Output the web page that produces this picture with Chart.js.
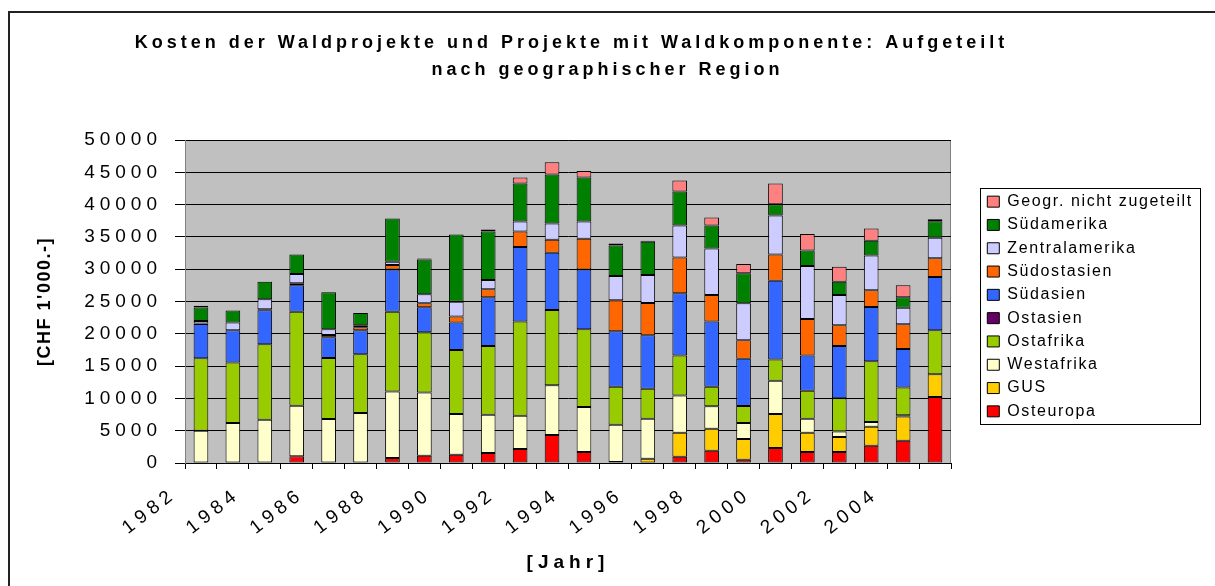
<!DOCTYPE html>
<html lang="de">
<head>
<meta charset="utf-8">
<title>Kosten der Waldprojekte</title>
<script src="https://cdn.jsdelivr.net/npm/chart.js@4.4.1/dist/chart.umd.min.js"></script>
<style>
  html, body { margin: 0; padding: 0; background: #fff; }
  #waldChart { display: block; }
</style>
</head>
<body>
<canvas id="waldChart" width="1215" height="586"></canvas>
<script>
// Kategorien (Jahre) und Achsenbeschriftungen
const years = ['1982', '1983', '1984', '1985', '1986', '1987', '1988', '1989', '1990', '1991', '1992', '1993',
  '1994', '1995', '1996', '1997', '1998', '1999', '2000', '2001', '2002', '2003', '2004', '2005'];
const xTickLabels = ['1982', '', '1984', '', '1986', '', '1988', '', '1990', '', '1992', '',
  '1994', '', '1996', '', '1998', '', '2000', '', '2002', '', '2004', ''];
const yTickLabels = ['0', '5000', '10000', '15000', '20000', '25000', '30000', '35000', '40000', '45000', '50000'];

// Werte in CHF 1'000.-, von unten nach oben gestapelt
const osteuropa = [0, 0, 0, 1030, 0, 0, 770, 1130, 1290, 1550, 2160, 4330, 1700, 150, 0, 980, 1910, 520, 2320, 1700, 1700, 2680, 3450, 10200];
const gus = [0, 0, 0, 0, 0, 0, 0, 0, 0, 0, 0, 0, 0, 0, 670, 3710, 3390, 3190, 5250, 2990, 2320, 2930, 3760, 3550];
const westafrika = [5000, 6180, 6700, 7830, 6800, 7730, 10300, 9790, 6280, 5920, 5150, 7720, 6950, 5770, 6180, 5760, 3500, 2470, 5150, 2160, 870, 720, 200, 0];
const ostafrika = [11200, 9370, 11690, 14570, 9470, 9110, 12360, 9320, 9940, 10660, 14580, 11640, 12050, 5870, 4630, 6180, 2990, 2630, 3300, 4330, 5150, 9430, 4280, 6800];
const ostasien = [0, 0, 0, 0, 0, 0, 0, 0, 0, 0, 0, 0, 0, 0, 0, 0, 0, 0, 0, 0, 0, 0, 0, 0];
const suedasien = [5300, 5000, 5250, 4070, 3200, 3710, 6540, 3860, 4220, 7520, 11530, 8860, 9270, 8600, 8300, 9640, 10100, 7310, 12200, 5450, 8090, 8390, 5970, 8240];
const suedostasien = [100, 0, 150, 310, 360, 460, 670, 620, 930, 1230, 2420, 2010, 4740, 4790, 4990, 5560, 4120, 2880, 4070, 5670, 3190, 2580, 3810, 2890];
const zentralamerika = [400, 1180, 1550, 1440, 870, 310, 520, 1390, 2320, 1450, 1550, 2520, 2680, 3760, 4330, 4940, 7210, 5720, 6030, 8190, 4690, 5410, 2580, 3190];
const suedamerika = [2060, 1860, 2730, 3040, 5720, 1910, 6690, 5410, 10400, 7510, 5870, 7570, 6800, 4740, 5150, 5250, 3550, 4640, 1750, 2420, 2060, 2260, 1600, 2570];
const nichtZugeteilt = [300, 0, 0, 0, 0, 0, 0, 150, 0, 310, 930, 1910, 1030, 310, 150, 1700, 1240, 1440, 3190, 2520, 2320, 1910, 1850, 310];

const font = "'Liberation Sans', Arial, Helvetica, sans-serif";

const series = [
  ['Osteuropa', osteuropa, '#FF0000'],
  ['GUS', gus, '#FFCC00'],
  ['Westafrika', westafrika, '#FFFFCC'],
  ['Ostafrika', ostafrika, '#99CC00'],
  ['Ostasien', ostasien, '#660066'],
  ['Südasien', suedasien, '#3366FF'],
  ['Südostasien', suedostasien, '#FF6600'],
  ['Zentralamerika', zentralamerika, '#CCCCFF'],
  ['Südamerika', suedamerika, '#008000'],
  ['Geogr. nicht zugeteilt', nichtZugeteilt, '#FF8080']
];

// Sperrschrift wie im Original: Abstand pro Element
function spaced(obj, key, px) {
  if (!obj || !obj[key] || obj[key]._spaced) return;
  const f = obj[key];
  const wrapped = function (...args) {
    const c = this.ctx;
    const old = c.letterSpacing;
    c.letterSpacing = px;
    const r = f.apply(this, args);
    c.letterSpacing = old;
    return r;
  };
  wrapped._spaced = true;
  obj[key] = wrapped;
}

const legendWidth = 235;
const legendShift = 5;

const excelLook = {
  id: 'excelLook',
  beforeLayout(chart) {
    chart.ctx.letterSpacing = '5px';
    spaced(chart.titleBlock, 'draw', '4px');
    spaced(chart.scales.y, 'drawTitle', '1.5px');
    const lg = chart.legend;
    if (lg && !lg._patched) {
      const fit = lg.fit, draw = lg.draw;
      lg.fit = function () {
        const c = this.ctx;
        c.letterSpacing = '1.6px';
        fit.call(this);
        c.letterSpacing = '5px';
        this.width = legendWidth;
      };
      lg.draw = function () {
        const c = this.ctx;
        c.save();
        c.letterSpacing = '1.6px';
        c.translate(0, legendShift);
        draw.call(this);
        c.restore();
      };
      lg._patched = true;
    }
  },
  beforeDraw(chart) {
    const { ctx, chartArea: a } = chart;
    ctx.save();
    ctx.fillStyle = '#C0C0C0';
    ctx.fillRect(a.left, a.top, a.width, a.height);
    ctx.strokeStyle = '#808080';
    ctx.lineWidth = 1;
    ctx.strokeRect(a.left + 0.5, a.top + 0.5, a.width - 1, a.height);
    ctx.restore();
    ctx.letterSpacing = '5px';
  },
  afterDraw(chart) {
    const ctx = chart.ctx;
    const lg = chart.legend;
    const hb = lg.legendHitBoxes;
    const t = Math.min(...hb.map(h => h.top)) + legendShift - 6;
    const b = Math.max(...hb.map(h => h.top + h.height)) + legendShift + 4;
    ctx.save();
    ctx.strokeStyle = '#000';
    ctx.lineWidth = 1;
    ctx.strokeRect(Math.round(lg.left) + 0.5, Math.round(t) + 0.5, 220, Math.round(b - t));
    // Rahmen um die ganze Grafik
    ctx.strokeStyle = '#222';
    ctx.lineWidth = 2;
    ctx.beginPath();
    ctx.moveTo(9, 600);
    ctx.lineTo(9, 12);
    ctx.lineTo(1215, 12);
    ctx.stroke();
    ctx.restore();
  }
};

new Chart(document.getElementById('waldChart'), {
  type: 'bar',
  data: {
    labels: years,
    datasets: series.map(([label, data, color]) => ({
      label,
      data,
      yAxisID: 'y',
      backgroundColor: color,
      borderColor: '#000',
      borderWidth: 1,
      borderSkipped: false,
      barPercentage: 0.46,
      categoryPercentage: 1.0
    }))
  },
  options: {
    responsive: false,
    animation: false,
    layout: { padding: 0 },
    plugins: {
      title: {
        display: true,
        // die erste Zeile steht im Original etwas links der Mitte (Leerzeichen am Ende)
        text: ['Kosten der Waldprojekte und Projekte mit Waldkomponente: Aufgeteilt        ', 'nach geographischer Region'],
        color: '#000',
        font: { family: font, size: 18, weight: 'bold', lineHeight: 1.5 },
        padding: { top: 30, bottom: 56 }
      },
      legend: {
        position: 'right',
        fullSize: false,
        reverse: true,
        labels: {
          color: '#000',
          font: { family: font, size: 16 },
          boxWidth: 12,
          boxHeight: 11,
          padding: 7.3
        }
      },
      tooltip: { enabled: false }
    },
    scales: {
      x: {
        stacked: true,
        grid: { offset: true, drawOnChartArea: false, color: '#000', tickLength: 6 },
        border: { color: '#000' },
        ticks: {
          color: '#000',
          font: { family: font, size: 19 },
          maxRotation: 38,
          minRotation: 38,
          autoSkip: false,
          labelOffset: -27,
          padding: 14,
          callback: (v, i) => xTickLabels[i]
        },
        title: {
          display: true,
          text: '[Jahr]',
          color: '#000',
          font: { family: font, size: 19, weight: 'bold' },
          padding: { top: 0, bottom: 12 }
        },
        afterFit(s) { s.height = 123; }
      },
      y: {
        stacked: true,
        min: 0,
        max: 50000,
        ticks: {
          stepSize: 5000,
          color: '#000',
          font: { family: font, size: 19 },
          padding: 13,
          callback: (v, i) => yTickLabels[i]
        },
        grid: { color: '#000', tickLength: 10 },
        border: { color: '#808080' },
        title: {
          display: true,
          text: "[CHF 1'000.-]",
          color: '#000',
          font: { family: font, size: 18, weight: 'bold' },
          padding: { top: 34, bottom: 0 }
        },
        afterFit(s) { s.width = 185; }
      },
      // Abstand zwischen Diagrammfläche und Legende
      gap: {
        type: 'linear',
        position: 'right',
        grid: { display: false },
        ticks: { display: false },
        border: { display: false },
        afterFit(s) { s.width = 29; }
      }
    }
  },
  plugins: [excelLook]
});
</script>
</body>
</html>
